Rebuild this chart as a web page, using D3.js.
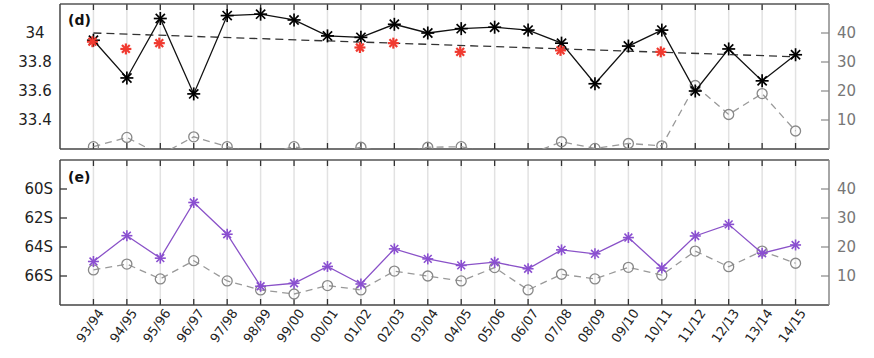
<!DOCTYPE html>
<html><head><meta charset="utf-8">
<script src="https://cdn.jsdelivr.net/npm/d3@7"></script>
<style>body{margin:0;background:#fff}svg{display:block;font-family:"DejaVu Sans",sans-serif}</style>
</head><body>
<svg id="c" width="874" height="358"></svg>
<script>
const seasons=["93/94","94/95","95/96","96/97","97/98","98/99","99/00","00/01","01/02","02/03","03/04","04/05","05/06","06/07","07/08","08/09","09/10","10/11","11/12","12/13","13/14","14/15"];
// panel (d)
const blackD=[33.95,33.69,34.10,33.58,34.12,34.13,34.09,33.98,33.97,34.06,34.00,34.03,34.04,34.02,33.93,33.65,33.91,34.02,33.60,33.89,33.67,33.85];
const redIdx=[0,1,2,8,9,11,14,17];
const redD=[33.94,33.89,33.93,33.90,33.93,33.87,33.88,33.87];
const trendIdx=[0,21];
const trendD=[34.00,33.836];
const grayD=[0.8,4.0,-2,4.2,0.8,-2,0.8,-2,0.6,-2,0.6,0.8,-2,-2,2.5,0.2,1.9,1.1,21.9,11.9,19.1,6.2];
// panel (e)
const purpleE=[65.0,63.22,64.77,60.93,63.12,66.71,66.5,65.34,66.55,64.13,64.82,65.27,65.05,65.5,64.2,64.47,63.35,65.45,63.24,62.44,64.43,63.86];
const grayE=[12.1,14.1,9.0,15.3,8.3,5.2,3.8,6.7,5.2,11.7,10.0,8.3,12.9,5.2,10.6,9.0,13.0,10.3,18.6,13.2,18.6,14.4];
const leftTicksD=[33.4,33.6,33.8,34];
const leftTicksE=[60,62,64,66];
const rightTicks=[10,20,30,40];

const svg=d3.select("#c");
const x=d3.scaleLinear().domain([-1,22]).range([60,829]);
const P={d:[4,149],e:[160,305]};
const yD=d3.scaleLinear().domain([33.2,34.2]).range([P.d[1],P.d[0]]);
const yRD=d3.scaleLinear().domain([0,50]).range([P.d[1],P.d[0]]);
const yE=d3.scaleLinear().domain([68,58]).range([P.e[1],P.e[0]]);
const yRE=d3.scaleLinear().domain([0,50]).range([P.e[1],P.e[0]]);
const idx=d3.range(seasons.length);

const defs=svg.append("defs");
["d","e"].forEach(k=>{defs.append("clipPath").attr("id","clip"+k).append("rect")
 .attr("x",60).attr("y",P[k][0]).attr("width",769).attr("height",P[k][1]-P[k][0]);});

function star(g,cx,cy,r,color,w){
  const s=g.append("g").attr("transform",`translate(${cx},${cy})`);
  [0,45,90,135].forEach(a=>{const t=a*Math.PI/180;
    s.append("line").attr("x1",-r*Math.cos(t)).attr("y1",-r*Math.sin(t)).attr("x2",r*Math.cos(t)).attr("y2",r*Math.sin(t))
     .attr("stroke",color).attr("stroke-width",w);});
}

function frame(k){
  const [t,b]=P[k];
  const g=svg.append("g");
  g.selectAll(".gl").data(idx).join("line").attr("x1",d=>x(d)).attr("x2",d=>x(d)).attr("y1",t).attr("y2",b)
   .attr("stroke","#e2e2e2").attr("stroke-width",1.5);
  g.selectAll(".tt").data(idx).join("line").attr("x1",d=>x(d)).attr("x2",d=>x(d)).attr("y1",t).attr("y2",t+6).attr("stroke","#333").attr("stroke-width",1.3);
  g.selectAll(".tb").data(idx).join("line").attr("x1",d=>x(d)).attr("x2",d=>x(d)).attr("y1",b).attr("y2",b-6).attr("stroke","#333").attr("stroke-width",1.3);
  g.append("line").attr("x1",60).attr("x2",829).attr("y1",t).attr("y2",t).attr("stroke","#555").attr("stroke-width",1.5);
  g.append("line").attr("x1",60).attr("x2",829).attr("y1",b).attr("y2",b).attr("stroke","#444").attr("stroke-width",1.5);
  g.append("line").attr("x1",60).attr("x2",60).attr("y1",t).attr("y2",b).attr("stroke","#444").attr("stroke-width",1.5);
  g.append("line").attr("x1",829).attr("x2",829).attr("y1",t).attr("y2",b).attr("stroke","#888").attr("stroke-width",1.5);
  const yr=k==="d"?yRD:yRE;
  g.selectAll(".rt").data(rightTicks).join("line").attr("x1",821).attr("x2",829).attr("y1",d=>yr(d)).attr("y2",d=>yr(d)).attr("stroke","#888").attr("stroke-width",1.2);
  g.selectAll(".rl").data(rightTicks).join("text").attr("x",837).attr("y",d=>yr(d)).attr("dy","0.36em")
   .attr("fill","#777").attr("font-size",15).text(d=>d);
  return g;
}

// Panel d
const gd=frame("d");
gd.selectAll(".ll").data(leftTicksD).join("text").attr("x",35).attr("y",d=>yD(d)).attr("dy","0.36em").attr("text-anchor","middle")
  .attr("fill","#222").attr("font-size",15).text(d=>d);
gd.append("text").attr("x",68).attr("y",25).attr("font-size",14).attr("font-weight","bold").attr("fill","#111").text("(d)");
const cd=svg.append("g").attr("clip-path","url(#clipd)");
cd.append("path").datum(idx).attr("fill","none").attr("stroke","#999").attr("stroke-width",1.3).attr("stroke-dasharray","7,5")
  .attr("d",d3.line().x(i=>x(i)).y(i=>yRD(grayD[i])));
cd.selectAll(".gc").data(idx.filter(i=>grayD[i]>=0)).join("circle").attr("cx",i=>x(i)).attr("cy",i=>yRD(grayD[i])).attr("r",5)
  .attr("fill","none").attr("stroke","#888").attr("stroke-width",1.3);
cd.append("path").datum(trendIdx.map((t,j)=>[t,trendD[j]])).attr("fill","none").attr("stroke","#333").attr("stroke-width",1.3)
  .attr("stroke-dasharray","8,5").attr("d",d3.line().x(d=>x(d[0])).y(d=>yD(d[1])));
cd.append("path").datum(idx).attr("fill","none").attr("stroke","#111").attr("stroke-width",1.3)
  .attr("d",d3.line().x(i=>x(i)).y(i=>yD(blackD[i])));
idx.forEach(i=>star(cd,x(i),yD(blackD[i]),6.5,"#000",1.7));
redIdx.forEach((i,j)=>star(cd,x(i)-1,yD(redD[j]),5.5,"#f03a30",2.2));

// Panel e
const ge=frame("e");
ge.selectAll(".lt").data(leftTicksE).join("line").attr("x1",60).attr("x2",67).attr("y1",d=>yE(d)).attr("y2",d=>yE(d)).attr("stroke","#333").attr("stroke-width",1.3);
ge.selectAll(".ll").data(leftTicksE).join("text").attr("x",53).attr("y",d=>yE(d)).attr("dy","0.36em").attr("text-anchor","end")
  .attr("fill","#222").attr("font-size",15).text(d=>d+"S");
ge.append("text").attr("x",68).attr("y",182).attr("font-size",14).attr("font-weight","bold").attr("fill","#111").text("(e)");
const ce=svg.append("g").attr("clip-path","url(#clipe)");
ce.append("path").datum(idx).attr("fill","none").attr("stroke","#999").attr("stroke-width",1.3).attr("stroke-dasharray","7,5")
  .attr("d",d3.line().x(i=>x(i)).y(i=>yRE(grayE[i])));
ce.selectAll(".gc").data(idx).join("circle").attr("cx",i=>x(i)).attr("cy",i=>yRE(grayE[i])).attr("r",5)
  .attr("fill","none").attr("stroke","#888").attr("stroke-width",1.3);
ce.append("path").datum(idx).attr("fill","none").attr("stroke","#8a52c8").attr("stroke-width",1.3)
  .attr("d",d3.line().x(i=>x(i)).y(i=>yE(purpleE[i])));
idx.forEach(i=>star(ce,x(i),yE(purpleE[i]),5.5,"#8a4fd0",1.6));

// x labels
svg.selectAll(".xl").data(idx).join("text")
  .attr("transform",i=>`translate(${x(i)+11},${313}) rotate(-55)`)
  .attr("text-anchor","end").attr("font-size",13).attr("fill","#222").text(i=>seasons[i]);
</script>
</body></html>
